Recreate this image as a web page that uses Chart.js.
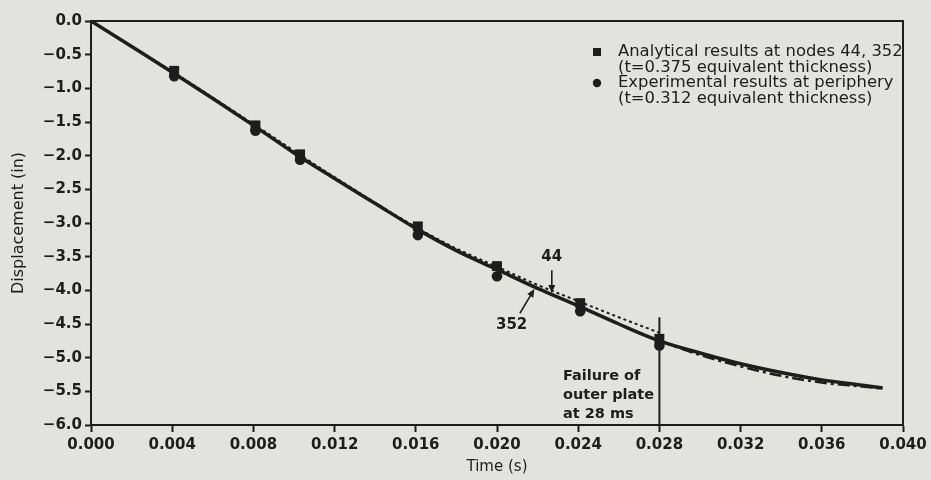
<!DOCTYPE html>
<html><head><meta charset="utf-8">
<script src="https://cdn.jsdelivr.net/npm/chart.js@4/dist/chart.umd.min.js"></script>
<style>html,body{margin:0;padding:0;background:#e2e2de;}#wrap{width:931px;height:480px;}</style>
</head><body><div id="wrap"><canvas id="c" width="931" height="480"></canvas></div>
<script>
// ---- data ----
const curveTime   = [0, 0.002, 0.004, 0.006, 0.008, 0.010, 0.012, 0.014, 0.016, 0.018, 0.020, 0.022, 0.024, 0.026, 0.028, 0.030, 0.032, 0.034, 0.036, 0.038, 0.039];
const node352Disp = [0, -0.38, -0.76, -1.15, -1.55, -1.96, -2.34, -2.71, -3.08, -3.41, -3.69, -3.97, -4.23, -4.50, -4.75, -4.93, -5.09, -5.22, -5.33, -5.41, -5.45];
const node44Time  = [0, 0.004, 0.008, 0.012, 0.016, 0.018, 0.020, 0.022, 0.024, 0.026, 0.028];
const node44Disp  = [0, -0.75, -1.53, -2.32, -3.06, -3.38, -3.65, -3.92, -4.16, -4.40, -4.63];
const tailTime    = [0.028, 0.030, 0.032, 0.034, 0.036, 0.038, 0.039];
const tailDisp    = [-4.75, -4.96, -5.13, -5.27, -5.37, -5.43, -5.46];
const analyticalTime   = [0.0041, 0.0081, 0.0103, 0.0161, 0.0200, 0.0241, 0.0280];
const analyticalDisp   = [-0.74, -1.55, -1.98, -3.05, -3.64, -4.19, -4.72];
const experimentalTime = [0.0041, 0.0081, 0.0103, 0.0161, 0.0200, 0.0241, 0.0280];
const experimentalDisp = [-0.82, -1.63, -2.06, -3.18, -3.79, -4.31, -4.82];
const xTickValues = [0, 0.004, 0.008, 0.012, 0.016, 0.020, 0.024, 0.028, 0.032, 0.036, 0.040];
const yTickValues = [0, -0.5, -1.0, -1.5, -2.0, -2.5, -3.0, -3.5, -4.0, -4.5, -5.0, -5.5, -6.0];
const xTitle = 'Time (s)';
const yTitle = 'Displacement (in)';
const legendLines = [
  ['Analytical results at nodes 44, 352', '(t=0.375 equivalent thickness)'],
  ['Experimental results at periphery', '(t=0.312 equivalent thickness)']
];
const failureTime = 0.028;
const failureText = ['Failure of', 'outer plate', 'at 28 ms'];

// ---- annotation placement (data space) ----
const notes = [
  {text: '44',  t: 0.0227,  v: -3.51, arrow: [0.0227, -3.70, 0.0227, -4.04]},
  {text: '352', t: 0.02072, v: -4.52, arrow: [0.02113, -4.34, 0.02184, -3.98]}
];
const failureLineTop = -4.40;
const failureTextAt = {t: 0.02325, v: -5.28, step: -0.28};

const ink = '#1d1d1d';
const bg = '#e2e2de';
const fam = '"DejaVu Sans", sans-serif';
const pts = (xs, ys) => xs.map((x, i) => ({x: x, y: ys[i]}));

function arrow(ctx, x1, y1, x2, y2) {
  const a = Math.atan2(y2 - y1, x2 - x1), L = 8, W = 3.5;
  ctx.beginPath(); ctx.moveTo(x1, y1); ctx.lineTo(x2 - L * 0.6 * Math.cos(a), y2 - L * 0.6 * Math.sin(a)); ctx.stroke();
  ctx.beginPath();
  ctx.moveTo(x2, y2);
  ctx.lineTo(x2 - L * Math.cos(a) + W * Math.sin(a), y2 - L * Math.sin(a) - W * Math.cos(a));
  ctx.lineTo(x2 - L * Math.cos(a) - W * Math.sin(a), y2 - L * Math.sin(a) + W * Math.cos(a));
  ctx.closePath(); ctx.fill();
}

const decor = {
  id: 'decor',
  beforeDraw(chart) {
    const c = chart.ctx; c.save(); c.fillStyle = bg; c.fillRect(0, 0, chart.width, chart.height); c.restore();
  },
  afterDraw(chart) {
    const c = chart.ctx, a = chart.chartArea, xs = chart.scales.x, ys = chart.scales.y;
    c.save();
    c.strokeStyle = ink; c.fillStyle = ink; c.lineWidth = 2;
    // frame top/right
    c.beginPath(); c.moveTo(a.left, a.top); c.lineTo(a.right, a.top); c.lineTo(a.right, a.bottom); c.stroke();
    // failure line
    const fx = xs.getPixelForValue(failureTime);
    c.beginPath(); c.moveTo(fx, ys.getPixelForValue(failureLineTop)); c.lineTo(fx, a.bottom); c.stroke();
    // failure text
    c.font = 'bold 14.5px ' + fam; c.textAlign = 'left'; c.textBaseline = 'middle';
    failureText.forEach((s, i) => c.fillText(s, xs.getPixelForValue(failureTextAt.t), ys.getPixelForValue(failureTextAt.v + i * failureTextAt.step)));
    // node labels + arrows
    c.font = 'bold 15px ' + fam;
    c.textAlign = 'center';
    c.lineWidth = 1.6;
    notes.forEach(n => {
      c.fillText(n.text, xs.getPixelForValue(n.t), ys.getPixelForValue(n.v));
      arrow(c, xs.getPixelForValue(n.arrow[0]), ys.getPixelForValue(n.arrow[1]), xs.getPixelForValue(n.arrow[2]), ys.getPixelForValue(n.arrow[3]));
    });
    // legend
    c.font = '16.4px ' + fam; c.textAlign = 'left';
    const lx = a.right - 306, tx = a.right - 285;
    let y = a.top + 31;
    c.fillRect(lx - 4, y - 4, 8, 8);
    c.fillText(legendLines[0][0], tx, y); c.fillText(legendLines[0][1], tx, y + 16);
    y += 31;
    c.beginPath(); c.arc(lx, y, 4.2, 0, Math.PI * 2); c.fill();
    c.fillText(legendLines[1][0], tx, y); c.fillText(legendLines[1][1], tx, y + 16);
    c.restore();
  }
};

new Chart(document.getElementById('c'), {
  type: 'line',
  data: {datasets: [
    {label: 'Node 352', data: pts(curveTime, node352Disp), borderColor: ink, borderWidth: 3.5, pointRadius: 0, cubicInterpolationMode: 'monotone', order: 3},
    {label: 'Node 44', data: pts(node44Time, node44Disp), borderColor: ink, borderWidth: 2, borderDash: [3, 3], pointRadius: 0, cubicInterpolationMode: 'monotone', order: 4},
    {label: 'Tail', data: pts(tailTime, tailDisp), borderColor: ink, borderWidth: 2.5, borderDash: [12, 4, 3, 4], pointRadius: 0, cubicInterpolationMode: 'monotone', order: 5},
    {label: 'Analytical', data: pts(analyticalTime, analyticalDisp), showLine: false, pointStyle: 'rect', pointRadius: 7, backgroundColor: ink, borderColor: ink, borderWidth: 0, order: 1},
    {label: 'Experimental', data: pts(experimentalTime, experimentalDisp), showLine: false, pointStyle: 'circle', pointRadius: 5.3, backgroundColor: ink, borderColor: ink, borderWidth: 0, order: 2}
  ]},
  options: {
    responsive: false, animation: false, devicePixelRatio: 1,
    layout: {padding: {top: 21, right: 28, left: 0, bottom: 0}},
    plugins: {legend: {display: false}, tooltip: {enabled: false}},
    scales: {
      x: {
        type: 'linear', position: 'bottom', min: 0, max: 0.04,
        afterBuildTicks: s => { s.ticks = xTickValues.map(v => ({value: v})); },
        afterFit: s => { s.height = 55; },
        ticks: {color: ink, font: {family: fam, weight: 'bold', size: 15}, padding: 4, maxRotation: 0, autoSkip: false, callback: v => v.toFixed(3)},
        grid: {drawOnChartArea: false, drawTicks: true, tickLength: 7, tickColor: ink, tickWidth: 2},
        border: {color: ink, width: 2},
        title: {display: true, text: xTitle, color: ink, font: {family: fam, size: 15}, padding: {top: 0, bottom: 4}}
      },
      y: {
        type: 'linear', position: 'left', min: -6, max: 0,
        afterBuildTicks: s => { s.ticks = yTickValues.map(v => ({value: v})); },
        afterFit: s => { s.width = 91; },
        ticks: {color: ink, font: {family: fam, weight: 'bold', size: 15}, padding: 3, autoSkip: false, callback: v => (v === 0 ? '0.0' : '\u2212' + Math.abs(v).toFixed(1))},
        grid: {drawOnChartArea: false, drawTicks: true, tickLength: 6, tickColor: ink, tickWidth: 2},
        border: {color: ink, width: 2},
        title: {display: true, text: yTitle, color: ink, font: {family: fam, size: 16}, padding: {top: 9, bottom: 0}}
      }
    }
  },
  plugins: [decor]
});
</script></body></html>
